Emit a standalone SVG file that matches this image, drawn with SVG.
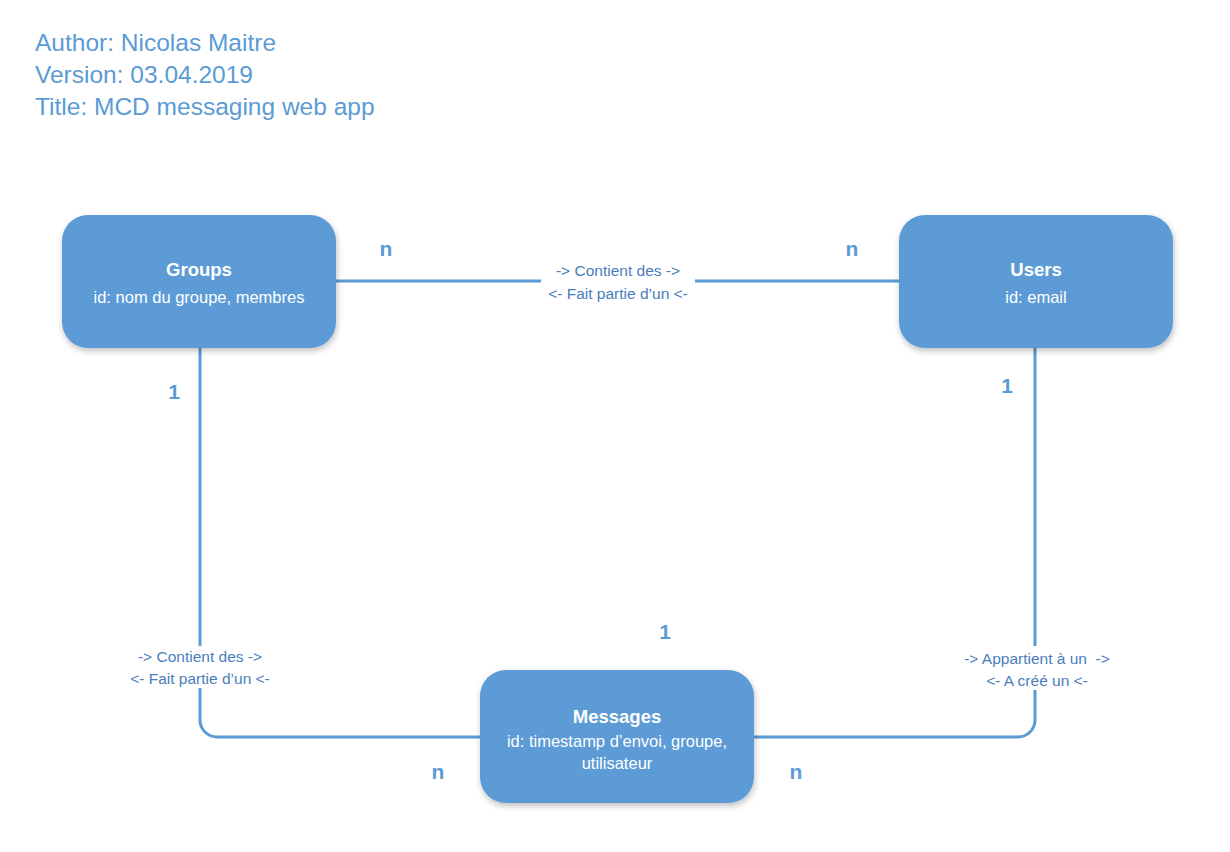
<svg xmlns="http://www.w3.org/2000/svg" width="1230" height="852" viewBox="0 0 1230 852">
<defs>
<filter id="sh" x="-10%" y="-10%" width="125%" height="130%">
<feDropShadow dx="1" dy="3" stdDeviation="3" flood-color="#000" flood-opacity="0.25"/>
</filter>
<style>
.box{fill:#5B9BD5;filter:url(#sh);}
.t{font-family:"Liberation Sans",Arial,sans-serif;fill:#fff;text-anchor:middle;}
.tt{font-size:18.5px;font-weight:bold;}
.ts{font-size:16.5px;}
.hdr{font-family:"Liberation Sans",Arial,sans-serif;font-size:24.5px;fill:#5B9BD5;}
.lbl{font-family:"Liberation Sans",Arial,sans-serif;font-size:15.5px;fill:#4A7EBB;text-anchor:middle;}
.card{font-family:"Liberation Sans",Arial,sans-serif;font-size:21px;font-weight:bold;fill:#5B9BD5;text-anchor:middle;}
.ln{fill:none;stroke:#5B9BD5;stroke-width:3;}
</style>
</defs>
<rect width="1230" height="852" fill="#fff"/>
<g id="header">
<text class="hdr" x="35" y="51">Author: Nicolas Maitre</text>
<text class="hdr" x="35" y="83">Version: 03.04.2019</text>
<text class="hdr" x="35" y="115">Title: MCD messaging web app</text>
</g>
<g id="connectors">
<path class="ln" d="M336 281 H541 M695 281 H899"/>
<path class="ln" d="M200 348 V646 M200 688 V720 A17 17 0 0 0 217 737 H480"/>
<path class="ln" d="M754 737 H1018 A17 17 0 0 0 1035 720 V690 M1035 646 V348"/>
<text class="lbl" x="618" y="276">-&gt; Contient des -&gt;</text>
<text class="lbl" x="618" y="299">&lt;- Fait partie d’un &lt;-</text>
<text class="lbl" x="200" y="662">-&gt; Contient des -&gt;</text>
<text class="lbl" x="200" y="684">&lt;- Fait partie d’un &lt;-</text>
<text class="lbl" x="1037" y="664">-&gt; Appartient à un&#160; -&gt;</text>
<text class="lbl" x="1037" y="686">&lt;- A créé un &lt;-</text>
<text class="card" x="386" y="256">n</text>
<text class="card" x="852" y="256">n</text>
<text class="card" x="174" y="399">1</text>
<text class="card" x="1007" y="393">1</text>
<text class="card" x="665" y="639">1</text>
<text class="card" x="438" y="779">n</text>
<text class="card" x="796" y="779">n</text>
</g>
<g id="groups">
<rect class="box" x="62" y="215" width="274" height="133" rx="26"/>
<text class="t tt" x="199" y="276">Groups</text>
<text class="t ts" x="199" y="303">id: nom du groupe, membres</text>
</g>
<g id="users">
<rect class="box" x="899" y="215" width="274" height="133" rx="26"/>
<text class="t tt" x="1036" y="276">Users</text>
<text class="t ts" x="1036" y="303">id: email</text>
</g>
<g id="messages">
<rect class="box" x="480" y="670" width="274" height="133" rx="26"/>
<text class="t tt" x="617" y="723">Messages</text>
<text class="t ts" x="617" y="747">id: timestamp d’envoi, groupe,</text>
<text class="t ts" x="617" y="769">utilisateur</text>
</g>
</svg>
